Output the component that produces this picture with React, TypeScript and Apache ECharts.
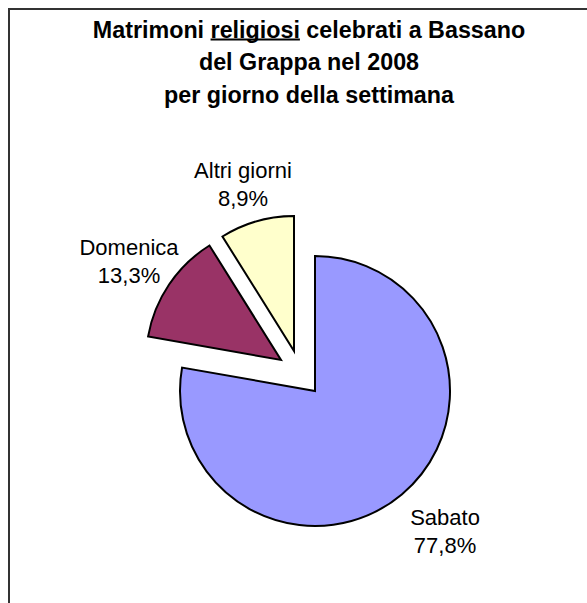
import React, { useEffect, useRef } from "react";
import * as echarts from "echarts";

// ---- data ----
const CATEGORIES = ["Sabato", "Domenica", "Altri giorni"];
const VALUES = [35, 6, 4];
const TITLE_LINES = [
  "Matrimoni religiosi celebrati a Bassano",
  "del Grappa nel 2008",
  "per giorno della settimana",
];
const UNDERLINED_WORD = "religiosi";

// ---- style / layout ----
const COLORS = ["#9999FF", "#993366", "#FFFFCC"];
const FONT = '"Liberation Sans", Arial, sans-serif';
const RADIUS = 135;
const SLICE_CENTERS = [
  [315, 391],
  [281, 360],
  [294, 351],
];
const LABEL_POS = [
  [445, 531],
  [129, 261],
  [243, 184],
];
const TITLE_X = 309;
const TITLE_SIZE = 23.3;
const TITLE_LH = 32.5;
const TITLE_TOP = 29.5 - TITLE_LH / 2;

function measure(text: string, font: string): number {
  const c = document.createElement("canvas");
  const ctx = c.getContext("2d");
  if (!ctx) return text.length * 12;
  ctx.font = font;
  return ctx.measureText(text).width;
}

export default function App() {
  const ref = useRef<HTMLDivElement>(null);

  useEffect(() => {
    if (!ref.current) return;
    const chart = echarts.init(ref.current, undefined, { renderer: "svg" });

    const tFont = `bold ${TITLE_SIZE}px ${FONT}`;
    const line0 = TITLE_LINES[0];
    const idx = line0.indexOf(UNDERLINED_WORD);
    const fullW = measure(line0, tFont);
    const preW = measure(line0.slice(0, idx), tFont);
    const uW = measure(UNDERLINED_WORD, tFont);
    const ux1 = TITLE_X - fullW / 2 + preW;
    const ux2 = ux1 + uW;
    const uy = TITLE_TOP + TITLE_LH / 2 + 10;

    const data = CATEGORIES.map((name, i) => ({ name, value: VALUES[i] }));

    const series = CATEGORIES.map((_, owner) => ({
      type: "pie",
      name: CATEGORIES[owner],
      center: SLICE_CENTERS[owner],
      radius: RADIUS,
      startAngle: 90,
      clockwise: true,
      avoidLabelOverlap: false,
      silent: true,
      emphasis: { disabled: true },
      percentPrecision: 1,
      labelLine: { show: false },
      labelLayout: (p: any) => ({
        x: LABEL_POS[p.dataIndex][0],
        y: LABEL_POS[p.dataIndex][1],
        align: "center",
        verticalAlign: "middle",
      }),
      data: data.map((d, i) =>
        i === owner
          ? {
              ...d,
              itemStyle: {
                color: COLORS[i],
                borderColor: "#000",
                borderWidth: 2,
                borderJoin: "miter",
              },
              label: {
                show: true,
                position: "outside",
                formatter: (p: any) =>
                  `${p.name}\n${Number(p.percent).toFixed(1).replace(".", ",")}%`,
                fontFamily: FONT,
                fontSize: 22,
                lineHeight: 28,
                color: "#000",
                align: "center",
              },
            }
          : {
              ...d,
              itemStyle: { color: "rgba(0,0,0,0)", borderWidth: 0 },
              label: { show: false },
            }
      ),
    }));

    chart.setOption({
      animation: false,
      backgroundColor: "#fff",
      title: {
        text: TITLE_LINES.join("\n"),
        left: TITLE_X,
        top: TITLE_TOP,
        textAlign: "center",
        padding: 0,
        textStyle: {
          fontFamily: FONT,
          fontSize: TITLE_SIZE,
          fontWeight: "bold",
          color: "#000",
          lineHeight: TITLE_LH,
        },
      },
      graphic: [
        {
          type: "rect",
          silent: true,
          z: 0,
          shape: { x: 9, y: 9, width: 700, height: 700 },
          style: { fill: "none", stroke: "#333", lineWidth: 2 },
        },
        {
          type: "line",
          silent: true,
          shape: { x1: ux1, y1: uy, x2: ux2, y2: uy },
          style: { stroke: "#000", lineWidth: 2 },
        },
      ],
      series,
    });

    return () => chart.dispose();
  }, []);

  return (
    <div
      ref={ref}
      style={{ position: "fixed", left: 0, top: 0, width: 587, height: 603 }}
    />
  );
}
